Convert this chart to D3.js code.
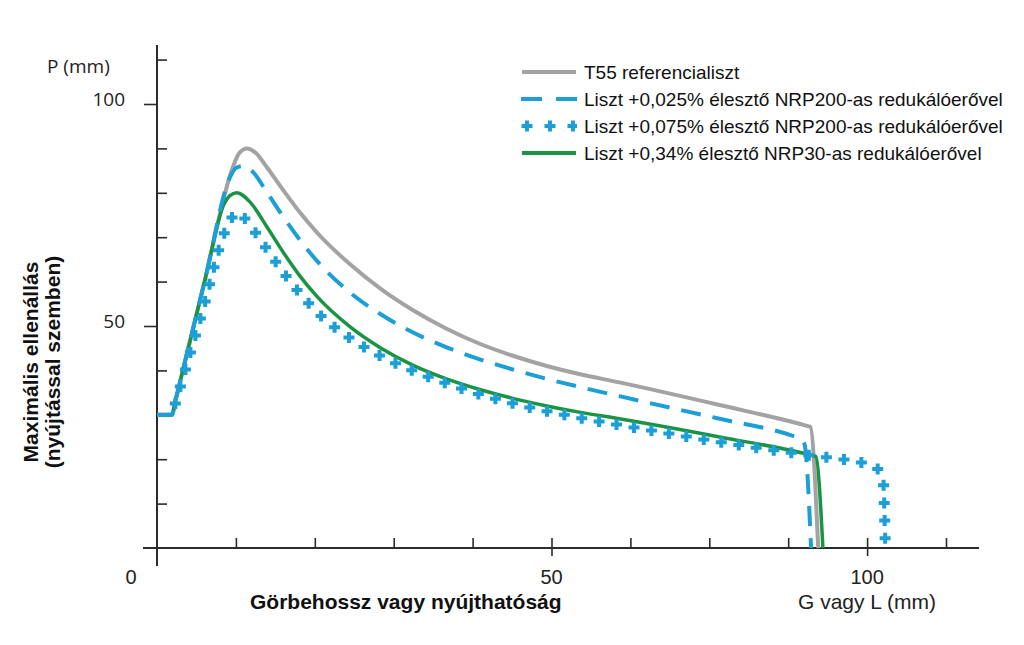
<!DOCTYPE html>
<html><head><meta charset="utf-8">
<script src="https://cdn.jsdelivr.net/npm/d3@7/dist/d3.min.js"></script>
<style>body{margin:0;background:#fff}svg{display:block}</style>
</head><body>
<svg id="c" width="1024" height="645"></svg>
<script>
// ---- data (x: G/L in axis units, y: P) ----
const seriesNames = [
  "T55 referencialiszt",
  "Liszt +0,025% élesztő NRP200-as redukálóerővel",
  "Liszt +0,075% élesztő NRP200-as redukálóerővel",
  "Liszt +0,34% élesztő NRP30-as redukálóerővel"
];
const t55 = [[0,30],[1.9,30],[2.3,32.9],[6,59.8],[9.6,85.7],[10.4,88.9],[11.4,90],[12.5,89],[13.9,85.8],[16,80.6],[18.1,75.6],[20.3,71.0],[24.4,64.0],[28.4,58.3],[32.4,53.6],[36.7,49.4],[40.9,46.0],[45.1,43.3],[49.4,41.0],[53.5,39.2],[58.6,37.3],[71.3,32.2],[82.4,27.5],[82.8,27.3],[83.8,0]];
const nrp200a = [[0,30],[1.9,30],[2.3,32.9],[6,59.8],[9.3,83.7],[10.0,85.6],[10.9,86],[12.2,84.6],[13.9,80.2],[16,74.6],[18.1,69.4],[20.3,64.6],[24.4,57.6],[28.4,52.6],[32.4,48.6],[36.7,45.2],[40.9,42.5],[45.1,40.2],[49.4,38.1],[53.5,36.3],[58.6,34.2],[71.3,29.1],[80.5,25.3],[81.6,24.6],[82.1,23.2],[82.3,20],[82.9,0]];
const nrp200b = [[0,30],[1.9,30],[2.3,32.4],[5.6,52.3],[8.8,72],[10.2,75.6],[11.8,72.6],[14.7,65.3],[17.2,59.3],[20.6,52.6],[24.4,47.3],[28.5,43.1],[32.9,39.6],[37.1,36.8],[41.5,34.3],[46.2,32.1],[50.8,30.3],[55.4,28.7],[59.9,27.3],[67.1,25.1],[76.3,22.5],[83.5,20.7],[88.5,19.5],[90.5,18.6],[91.6,17.3],[92.1,14],[92.2,8],[92.3,1.4]];
const nrp30 = [[0,30],[1.9,30],[2.3,32.9],[6,59.8],[8.5,77.5],[9.2,79.3],[10.1,80],[11.8,77.9],[13.9,72.4],[16,66.6],[18.1,61.3],[20.3,56.6],[24.4,49.9],[28.4,45.0],[32.4,41.2],[36.7,38.1],[40.9,35.7],[45.1,33.7],[49.4,32.0],[53.5,30.6],[58.6,29.1],[71.3,25.0],[83.1,20.8],[83.5,20.6],[84.4,0]];
const yMinorTicks = [10,20,30,40,60,70,80,90,110];
const yMajorTicks = [50,100];
const xMinorTicks = [10,20,30,40,60,70,80,100];
const xMajorTicks = [50,90];
const yTickLabels = [{v:100,t:"100"},{v:50,t:"50"}];
const xTickLabels = [{v:-3.3,t:"0"},{v:50,t:"50"},{v:90,t:"100"}];

// ---- setup ----
const svg = d3.select("#c");
const x = d3.scaleLinear().domain([0,100]).range([157,946]);
const y = d3.scaleLinear().domain([0,100]).range([548,104]);
const AX = "#2b2b2b";
const GRAY = "#a3a3a3", BLUE = "#1b9fd6", GREEN = "#1a9443";
const sans = "'Liberation Sans', Arial, sans-serif";
const open = "'Open Sans', sans-serif";

// axes lines
svg.append("line").attr("x1",x(0)).attr("x2",x(0)).attr("y1",45).attr("y2",566).attr("stroke",AX).attr("stroke-width",2);
svg.append("line").attr("x1",143).attr("x2",979).attr("y1",y(0)).attr("y2",y(0)).attr("stroke",AX).attr("stroke-width",2);

function styleAxis(g){ g.select(".domain").remove(); g.selectAll("line").attr("stroke",AX).attr("stroke-width",1.6); g.selectAll("text").remove(); }
svg.append("g").attr("transform",`translate(${x(0)},0)`).call(d3.axisRight(y).tickValues(yMinorTicks).tickSize(10).tickFormat("")).call(styleAxis);
svg.append("g").attr("transform",`translate(${x(0)},0)`).call(d3.axisLeft(y).tickValues(yMajorTicks).tickSize(13).tickFormat("")).call(styleAxis);
svg.append("g").attr("transform",`translate(0,${y(0)})`).call(d3.axisTop(x).tickValues(xMinorTicks).tickSize(10).tickFormat("")).call(styleAxis);
svg.append("g").attr("transform",`translate(0,${y(0)})`).call(d3.axisTop(x).tickValues(xMajorTicks).tickSize(10).tickFormat("")).call(styleAxis);
svg.append("g").attr("transform",`translate(0,${y(0)})`).call(d3.axisBottom(x).tickValues(xMajorTicks).tickSize(8).tickFormat("")).call(styleAxis);

// tick labels
svg.selectAll(".ylab").data(yTickLabels).join("text")
  .attr("x",125).attr("y",d=>y(d.v)+2).attr("text-anchor","end")
  .attr("font-family",open).attr("font-size",19).attr("fill","#222").text(d=>d.t);
svg.selectAll(".xlab").data(xTickLabels).join("text")
  .attr("x",d=>x(d.v)).attr("y",584).attr("text-anchor","middle")
  .attr("font-family",sans).attr("font-size",20).attr("fill","#222").text(d=>d.t);

svg.append("text").attr("x",47).attr("y",73).attr("font-family",open).attr("font-size",19).attr("fill","#222").text("P (mm)");
svg.append("text").attr("x",250).attr("y",609).attr("font-family",sans).attr("font-size",21).attr("font-weight","bold").attr("fill","#111").text("Görbehossz vagy nyújthatóság");
svg.append("text").attr("x",798).attr("y",609).attr("font-family",sans).attr("font-size",21).attr("fill","#222").text("G vagy L (mm)");
const yt = svg.append("text").attr("transform","translate(38,362) rotate(-90)").attr("text-anchor","middle")
  .attr("font-family",sans).attr("font-size",21).attr("font-weight","bold").attr("fill","#111");
yt.append("tspan").attr("x",0).attr("y",0).text("Maximális ellenállás");
yt.append("tspan").attr("x",0).attr("y",22).text("(nyújtással szemben)");

// lines
const line = d3.line().x(d=>x(d[0])).y(d=>y(d[1])).curve(d3.curveMonotoneX);
svg.append("path").attr("d",line(t55)).attr("fill","none").attr("stroke",GRAY).attr("stroke-width",4);
svg.append("path").attr("d",line(nrp30)).attr("fill","none").attr("stroke",GREEN).attr("stroke-width",3.5);
svg.append("path").attr("d",line(nrp200a)).attr("fill","none").attr("stroke",BLUE).attr("stroke-width",4).attr("stroke-dasharray","20,12");
const pp = svg.append("path").attr("d",line(nrp200b)).attr("fill","none").attr("stroke","none");
const plusPath = "M-5.5,0H5.5M0,-5.5V5.5";
const node = pp.node(), L = node.getTotalLength();
const pts = [];
for (let s = 27; s <= L; s += 17.7) { const p = node.getPointAtLength(s); pts.push(p); }
svg.append("defs").append("clipPath").attr("id","clipAbove").append("rect").attr("x",0).attr("y",0).attr("width",1024).attr("height",y(0)-3);
svg.append("g").attr("clip-path","url(#clipAbove)").selectAll("path.plus").data(pts).join("path")
  .attr("d",plusPath).attr("transform",p=>`translate(${p.x},${p.y})`)
  .attr("stroke",BLUE).attr("stroke-width",4).attr("fill","none");

// legend
const legY = [72,99,126,153];
const lg = svg.append("g");
lg.append("line").attr("x1",522).attr("x2",576).attr("y1",legY[0]).attr("y2",legY[0]).attr("stroke",GRAY).attr("stroke-width",4);
lg.append("line").attr("x1",521).attr("x2",578).attr("y1",legY[1]).attr("y2",legY[1]).attr("stroke",BLUE).attr("stroke-width",4).attr("stroke-dasharray","21,14");
svg.select("defs").append("clipPath").attr("id","clipLeg").append("rect").attr("x",515).attr("y",110).attr("width",62).attr("height",30);
lg.append("g").attr("clip-path","url(#clipLeg)").selectAll("path").data([527,550,573]).join("path")
  .attr("d",plusPath).attr("transform",d=>`translate(${d},${legY[2]})`).attr("stroke",BLUE).attr("stroke-width",4);
lg.append("line").attr("x1",522).attr("x2",576).attr("y1",legY[3]).attr("y2",legY[3]).attr("stroke",GREEN).attr("stroke-width",4);
lg.selectAll("text").data(seriesNames).join("text")
  .attr("x",584).attr("y",(d,i)=>legY[i]+7).attr("font-family",sans).attr("font-size",19).attr("fill","#111").text(d=>d);
</script>
</body></html>
